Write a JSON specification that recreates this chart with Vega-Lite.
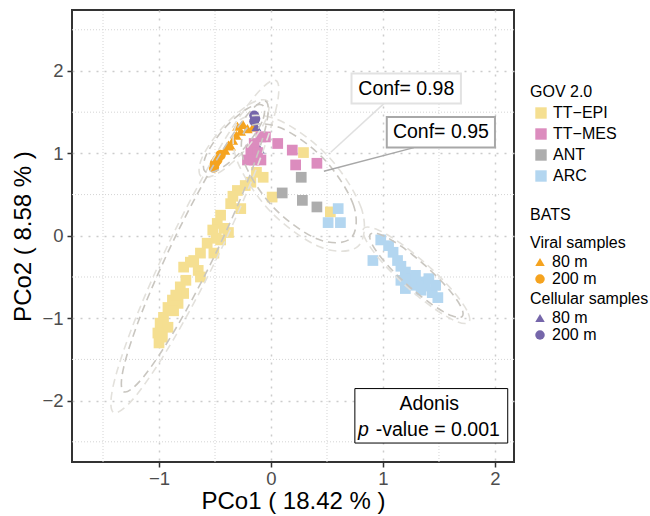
{
"$schema": "https://vega.github.io/schema/vega-lite/v6.json",
"width": 442, "height": 452,
"autosize": {"type": "none"},
"padding": {"left": 72, "top": 10, "right": 136, "bottom": 54},
"background": "white",
"config": {
  "font": "Liberation Sans",
  "view": {"stroke": "#333333", "strokeWidth": 2},
  "axis": {"labelFont": "Liberation Sans", "labelFontSize": 18.5, "labelColor": "#4d4d4d", "tickColor": "#333333", "tickWidth": 1.5, "tickSize": 5, "domain": false, "titleFont": "Liberation Sans", "titleFontSize": 24, "titleFontWeight": "normal", "titleColor": "#000000", "gridColor": "#cccccc", "gridDash": [2, 6], "gridWidth": 1.5},
  "legend": {"labelFont": "Liberation Sans", "labelFontSize": 16, "labelColor": "#000000", "titleFont": "Liberation Sans", "titleFontSize": 16, "titleFontWeight": "normal", "titleColor": "#000000", "padding": 0, "orient": "none"}
},
"datasets": {
  "grid": [
    {"x": -1.5, "y": -2.745, "x2": -1.5, "y2": 2.74},
    {"x": -0.5, "y": -2.745, "x2": -0.5, "y2": 2.74},
    {"x": 0.5, "y": -2.745, "x2": 0.5, "y2": 2.74},
    {"x": 1.5, "y": -2.745, "x2": 1.5, "y2": 2.74},
    {"x": -1.777, "y": -2.5, "x2": 2.17, "y2": -2.5},
    {"x": -1.777, "y": -1.5, "x2": 2.17, "y2": -1.5},
    {"x": -1.777, "y": -0.5, "x2": 2.17, "y2": -0.5},
    {"x": -1.777, "y": 0.5, "x2": 2.17, "y2": 0.5},
    {"x": -1.777, "y": 1.5, "x2": 2.17, "y2": 1.5},
    {"x": -1.777, "y": 2.5, "x2": 2.17, "y2": 2.5}
  ],
  "pts": [
    {"g": "TT−EPI", "x": 0.29, "y": 1.01}, {"g": "TT−EPI", "x": 0.01, "y": 0.47}, {"g": "TT−EPI", "x": 0.53, "y": 0.29},
    {"g": "TT−EPI", "x": -0.30, "y": 0.55}, {"g": "TT−EPI", "x": -0.18, "y": 0.65}, {"g": "TT−EPI", "x": -0.07, "y": 0.71},
    {"g": "TT−EPI", "x": -0.23, "y": 0.61}, {"g": "TT−EPI", "x": -0.13, "y": 0.77}, {"g": "TT−EPI", "x": -0.36, "y": 0.39},
    {"g": "TT−EPI", "x": -0.27, "y": 0.33}, {"g": "TT−EPI", "x": -0.45, "y": 0.25}, {"g": "TT−EPI", "x": -0.42, "y": 0.09},
    {"g": "TT−EPI", "x": -0.45, "y": -0.05}, {"g": "TT−EPI", "x": -0.38, "y": 0.04}, {"g": "TT−EPI", "x": -0.48, "y": 0.15},
    {"g": "TT−EPI", "x": -0.57, "y": -0.09}, {"g": "TT−EPI", "x": -0.51, "y": -0.21}, {"g": "TT−EPI", "x": -0.63, "y": -0.21},
    {"g": "TT−EPI", "x": -0.69, "y": -0.30}, {"g": "TT−EPI", "x": -0.78, "y": -0.38}, {"g": "TT−EPI", "x": -0.65, "y": -0.42},
    {"g": "TT−EPI", "x": -0.63, "y": -0.50}, {"g": "TT−EPI", "x": -0.76, "y": -0.54}, {"g": "TT−EPI", "x": -0.81, "y": -0.62},
    {"g": "TT−EPI", "x": -0.78, "y": -0.70}, {"g": "TT−EPI", "x": -0.88, "y": -0.78}, {"g": "TT−EPI", "x": -0.83, "y": -0.82},
    {"g": "TT−EPI", "x": -0.92, "y": -0.87}, {"g": "TT−EPI", "x": -0.87, "y": -0.91}, {"g": "TT−EPI", "x": -0.96, "y": -0.99},
    {"g": "TT−EPI", "x": -0.99, "y": -1.06}, {"g": "TT−EPI", "x": -0.92, "y": -1.11}, {"g": "TT−EPI", "x": -1.01, "y": -1.18},
    {"g": "TT−EPI", "x": -0.97, "y": -1.23}, {"g": "TT−EPI", "x": -1.00, "y": -1.30}, {"g": "TT−EPI", "x": -0.72, "y": -0.32},
    {"g": "TT−EPI", "x": -0.85, "y": -0.72}, {"g": "TT−EPI", "x": -0.34, "y": 0.48}, {"g": "TT−EPI", "x": -0.52, "y": 0.07},
    {"g": "TT−EPI", "x": -0.49, "y": -0.03},
    {"g": "TT−MES", "x": -0.09, "y": 1.20}, {"g": "TT−MES", "x": -0.15, "y": 1.12}, {"g": "TT−MES", "x": -0.18, "y": 1.04},
    {"g": "TT−MES", "x": -0.12, "y": 1.01}, {"g": "TT−MES", "x": -0.21, "y": 0.92}, {"g": "TT−MES", "x": -0.09, "y": 0.92},
    {"g": "TT−MES", "x": 0.06, "y": 1.12}, {"g": "TT−MES", "x": 0.19, "y": 1.04}, {"g": "TT−MES", "x": 0.22, "y": 0.86},
    {"g": "TT−MES", "x": 0.41, "y": 0.88}, {"g": "TT−MES", "x": -0.15, "y": 0.92}, {"g": "TT−MES", "x": -0.05, "y": 1.20},
    {"g": "ANT", "x": 0.27, "y": 0.71}, {"g": "ANT", "x": 0.10, "y": 0.52}, {"g": "ANT", "x": 0.28, "y": 0.43}, {"g": "ANT", "x": 0.41, "y": 0.35},
    {"g": "ARC", "x": 0.60, "y": 0.33}, {"g": "ARC", "x": 0.51, "y": 0.16}, {"g": "ARC", "x": 0.62, "y": 0.16},
    {"g": "ARC", "x": 0.98, "y": -0.05}, {"g": "ARC", "x": 1.05, "y": -0.12}, {"g": "ARC", "x": 0.91, "y": -0.30},
    {"g": "ARC", "x": 1.09, "y": -0.20}, {"g": "ARC", "x": 1.13, "y": -0.30}, {"g": "ARC", "x": 1.16, "y": -0.37},
    {"g": "ARC", "x": 1.20, "y": -0.44}, {"g": "ARC", "x": 1.25, "y": -0.52}, {"g": "ARC", "x": 1.32, "y": -0.56},
    {"g": "ARC", "x": 1.38, "y": -0.61}, {"g": "ARC", "x": 1.44, "y": -0.69}, {"g": "ARC", "x": 1.49, "y": -0.75},
    {"g": "ARC", "x": 1.25, "y": -0.60}, {"g": "ARC", "x": 1.34, "y": -0.66}, {"g": "ARC", "x": 1.16, "y": -0.54},
    {"g": "ARC", "x": 1.29, "y": -0.48}, {"g": "ARC", "x": 1.41, "y": -0.52}, {"g": "ARC", "x": 1.20, "y": -0.64},
    {"g": "ARC", "x": 1.47, "y": -0.60}
  ],
  "bats": [
    {"s": "viral", "d": "80 m", "x": -0.30, "y": 1.33}, {"s": "viral", "d": "80 m", "x": -0.25, "y": 1.35},
    {"s": "viral", "d": "80 m", "x": -0.21, "y": 1.30}, {"s": "viral", "d": "80 m", "x": -0.16, "y": 1.32},
    {"s": "viral", "d": "80 m", "x": -0.27, "y": 1.27}, {"s": "viral", "d": "80 m", "x": -0.34, "y": 1.16},
    {"s": "viral", "d": "80 m", "x": -0.38, "y": 1.10}, {"s": "viral", "d": "80 m", "x": -0.41, "y": 1.04},
    {"s": "viral", "d": "80 m", "x": -0.36, "y": 1.09}, {"s": "viral", "d": "80 m", "x": -0.31, "y": 1.22},
    {"s": "viral", "d": "200 m", "x": -0.51, "y": 0.83}, {"s": "viral", "d": "200 m", "x": -0.48, "y": 0.92},
    {"s": "viral", "d": "200 m", "x": -0.45, "y": 0.98}, {"s": "viral", "d": "200 m", "x": -0.50, "y": 0.88},
    {"s": "cellular", "d": "80 m", "x": -0.13, "y": 1.32}, {"s": "cellular", "d": "80 m", "x": -0.10, "y": 1.05},
    {"s": "cellular", "d": "200 m", "x": -0.15, "y": 1.46}, {"s": "cellular", "d": "200 m", "x": -0.15, "y": 1.39},
    {"s": "cellular", "d": "200 m", "x": -0.14, "y": 1.42}
  ],
  "ell": [
    {"id": "EPI", "c": "98", "o": 0, "x": 0.044, "y": 1.885}, {"id": "EPI", "c": "98", "o": 1, "x": 0.047, "y": 1.549},
    {"id": "EPI", "c": "98", "o": 2, "x": -0.145, "y": 0.762}, {"id": "EPI", "c": "98", "o": 3, "x": -0.48, "y": -0.263},
    {"id": "EPI", "c": "98", "o": 4, "x": -0.869, "y": -1.253}, {"id": "EPI", "c": "98", "o": 5, "x": -1.207, "y": -1.942},
    {"id": "EPI", "c": "98", "o": 6, "x": -1.404, "y": -2.145}, {"id": "EPI", "c": "98", "o": 7, "x": -1.407, "y": -1.809},
    {"id": "EPI", "c": "98", "o": 8, "x": -1.215, "y": -1.023}, {"id": "EPI", "c": "98", "o": 9, "x": -0.88, "y": 0.003},
    {"id": "EPI", "c": "98", "o": 10, "x": -0.491, "y": 0.993}, {"id": "EPI", "c": "98", "o": 11, "x": -0.153, "y": 1.682},
    {"id": "EPI", "c": "95", "o": 0, "x": -0.047, "y": 1.633}, {"id": "EPI", "c": "95", "o": 1, "x": -0.044, "y": 1.339},
    {"id": "EPI", "c": "95", "o": 2, "x": -0.212, "y": 0.651}, {"id": "EPI", "c": "95", "o": 3, "x": -0.505, "y": -0.246},
    {"id": "EPI", "c": "95", "o": 4, "x": -0.845, "y": -1.113}, {"id": "EPI", "c": "95", "o": 5, "x": -1.141, "y": -1.716},
    {"id": "EPI", "c": "95", "o": 6, "x": -1.314, "y": -1.893}, {"id": "EPI", "c": "95", "o": 7, "x": -1.316, "y": -1.599},
    {"id": "EPI", "c": "95", "o": 8, "x": -1.148, "y": -0.911}, {"id": "EPI", "c": "95", "o": 9, "x": -0.855, "y": -0.014},
    {"id": "EPI", "c": "95", "o": 10, "x": -0.515, "y": 0.853}, {"id": "EPI", "c": "95", "o": 11, "x": -0.219, "y": 1.456},
    {"id": "ARC", "c": "98", "o": 0, "x": 1.767, "y": -1.049}, {"id": "ARC", "c": "98", "o": 1, "x": 1.749, "y": -0.905},
    {"id": "ARC", "c": "98", "o": 2, "x": 1.610, "y": -0.646}, {"id": "ARC", "c": "98", "o": 3, "x": 1.387, "y": -0.343},
    {"id": "ARC", "c": "98", "o": 4, "x": 1.141, "y": -0.076}, {"id": "ARC", "c": "98", "o": 5, "x": 0.937, "y": 0.083},
    {"id": "ARC", "c": "98", "o": 6, "x": 0.829, "y": 0.091}, {"id": "ARC", "c": "98", "o": 7, "x": 0.848, "y": -0.053},
    {"id": "ARC", "c": "98", "o": 8, "x": 0.987, "y": -0.312}, {"id": "ARC", "c": "98", "o": 9, "x": 1.209, "y": -0.615},
    {"id": "ARC", "c": "98", "o": 10, "x": 1.456, "y": -0.882}, {"id": "ARC", "c": "98", "o": 11, "x": 1.660, "y": -1.041},
    {"id": "ARC", "c": "95", "o": 0, "x": 1.708, "y": -0.978}, {"id": "ARC", "c": "95", "o": 1, "x": 1.693, "y": -0.852},
    {"id": "ARC", "c": "95", "o": 2, "x": 1.571, "y": -0.625}, {"id": "ARC", "c": "95", "o": 3, "x": 1.376, "y": -0.360},
    {"id": "ARC", "c": "95", "o": 4, "x": 1.161, "y": -0.126}, {"id": "ARC", "c": "95", "o": 5, "x": 0.982, "y": 0.013},
    {"id": "ARC", "c": "95", "o": 6, "x": 0.888, "y": 0.020}, {"id": "ARC", "c": "95", "o": 7, "x": 0.904, "y": -0.106},
    {"id": "ARC", "c": "95", "o": 8, "x": 1.026, "y": -0.333}, {"id": "ARC", "c": "95", "o": 9, "x": 1.220, "y": -0.598},
    {"id": "ARC", "c": "95", "o": 10, "x": 1.436, "y": -0.832}, {"id": "ARC", "c": "95", "o": 11, "x": 1.615, "y": -0.971},
    {"id": "MES", "c": "95", "o": 0, "x": 0.713, "y": -0.030}, {"id": "MES", "c": "95", "o": 1, "x": 0.737, "y": 0.371},
    {"id": "MES", "c": "95", "o": 2, "x": 0.475, "y": 0.928}, {"id": "MES", "c": "95", "o": 3, "x": 0.080, "y": 1.314},
    {"id": "MES", "c": "95", "o": 4, "x": -0.217, "y": 1.304}, {"id": "MES", "c": "95", "o": 5, "x": -0.241, "y": 0.903},
    {"id": "MES", "c": "95", "o": 6, "x": 0.021, "y": 0.346}, {"id": "MES", "c": "95", "o": 7, "x": 0.416, "y": -0.040},
    {"id": "MES", "c": "98", "o": 0, "x": 0.779, "y": -0.125}, {"id": "MES", "c": "98", "o": 1, "x": 0.807, "y": 0.333},
    {"id": "MES", "c": "98", "o": 2, "x": 0.507, "y": 0.970}, {"id": "MES", "c": "98", "o": 3, "x": 0.056, "y": 1.411},
    {"id": "MES", "c": "98", "o": 4, "x": -0.283, "y": 1.399}, {"id": "MES", "c": "98", "o": 5, "x": -0.311, "y": 0.941},
    {"id": "MES", "c": "98", "o": 6, "x": -0.011, "y": 0.304}, {"id": "MES", "c": "98", "o": 7, "x": 0.440, "y": -0.137},
    {"id": "BATS", "c": "95", "o": 0, "x": -0.071, "y": 1.58}, {"id": "BATS", "c": "95", "o": 1, "x": -0.08, "y": 1.384},
    {"id": "BATS", "c": "95", "o": 2, "x": -0.236, "y": 1.068}, {"id": "BATS", "c": "95", "o": 3, "x": -0.447, "y": 0.818},
    {"id": "BATS", "c": "95", "o": 4, "x": -0.589, "y": 0.78}, {"id": "BATS", "c": "95", "o": 5, "x": -0.58, "y": 0.976},
    {"id": "BATS", "c": "95", "o": 6, "x": -0.424, "y": 1.292}, {"id": "BATS", "c": "95", "o": 7, "x": -0.213, "y": 1.542},
    {"id": "BATS", "c": "98", "o": 0, "x": -0.034, "y": 1.637}, {"id": "BATS", "c": "98", "o": 1, "x": -0.044, "y": 1.413},
    {"id": "BATS", "c": "98", "o": 2, "x": -0.223, "y": 1.052}, {"id": "BATS", "c": "98", "o": 3, "x": -0.464, "y": 0.766},
    {"id": "BATS", "c": "98", "o": 4, "x": -0.626, "y": 0.723}, {"id": "BATS", "c": "98", "o": 5, "x": -0.616, "y": 0.947},
    {"id": "BATS", "c": "98", "o": 6, "x": -0.437, "y": 1.308}, {"id": "BATS", "c": "98", "o": 7, "x": -0.196, "y": 1.594}
  ],
  "ann": [
    {"k": "b98", "x": 0.719, "y": 1.968, "x2": 1.696, "y2": 1.604},
    {"k": "b95", "x": 1.034, "y": 1.442, "x2": 2.0, "y2": 1.070},
    {"k": "bad", "x": 0.749, "y": -1.854, "x2": 2.114, "y2": -2.515},
    {"k": "l98", "x": 1.008, "y": 1.604, "x2": 0.534, "y2": 1.013},
    {"k": "l95", "x": 1.276, "y": 1.070, "x2": 0.472, "y2": 0.783}
  ],
  "txt": [
    {"k": "c", "t": "Conf= 0.98", "x": 1.208, "y": 1.786},
    {"k": "c", "t": "Conf= 0.95", "x": 1.517, "y": 1.256},
    {"k": "c", "t": "Adonis", "x": 1.413, "y": -2.036},
    {"k": "pv", "t": "-value = 0.001", "x": 0.935, "y": -2.36},
    {"k": "p", "t": "p", "x": 0.776, "y": -2.36}
  ]
},
"encoding": {
  "x": {"field": "x", "type": "quantitative", "scale": {"domain": [-1.777, 2.17], "nice": false, "zero": false},
        "axis": {"values": [-1, 0, 1, 2], "title": "PCo1 ( 18.42 % )", "labelPadding": 2, "titlePadding": 2}},
  "y": {"field": "y", "type": "quantitative", "scale": {"domain": [-2.745, 2.74], "nice": false, "zero": false},
        "axis": {"values": [-2, -1, 0, 1, 2], "title": "PCo2 ( 8.58 % )", "labelPadding": 4, "titlePadding": 6}}
},
"layer": [
  {"data": {"name": "grid"}, "mark": {"type": "rule", "color": "#d4d4d4", "strokeWidth": 1, "strokeDash": [1, 2]},
   "encoding": {"x2": {"field": "x2"}, "y2": {"field": "y2"}}},
  {"data": {"name": "bats"}, "transform": [{"filter": "datum.s === 'viral'"}],
   "mark": {"type": "point", "filled": true, "opacity": 1, "color": "#F5A31F", "size": 110},
   "encoding": {"shape": {"field": "d", "type": "nominal", "scale": {"domain": ["80 m", "200 m"], "range": ["triangle-up", "circle"]},
     "legend": {"title": ["BATS", "Viral samples"], "titleLineHeight": 28, "legendX": 458, "legendY": 197, "symbolFillColor": "#F5A31F", "symbolStrokeWidth": 0, "symbolSize": 90, "rowPadding": 1, "titlePadding": 3, "symbolOffset": 2}}}},
  {"data": {"name": "bats"}, "transform": [{"filter": "datum.s === 'cellular'"}],
   "mark": {"type": "point", "filled": true, "opacity": 1, "color": "#7566AA", "size": 100},
   "encoding": {"shape": {"field": "d", "type": "nominal", "scale": {"domain": ["80 m", "200 m"], "range": ["triangle-up", "circle"]},
     "legend": {"title": "Cellular samples", "legendX": 458, "legendY": 281, "symbolFillColor": "#7566AA", "symbolStrokeWidth": 0, "symbolSize": 90, "rowPadding": 1, "titlePadding": 3, "symbolOffset": 2}}}},
  {"data": {"name": "pts"}, "mark": {"type": "point", "shape": "square", "filled": true, "opacity": 1, "size": 115},
   "encoding": {"color": {"field": "g", "type": "nominal",
     "scale": {"domain": ["TT−EPI", "TT−MES", "ANT", "ARC"], "range": ["#F5DF91", "#DC8CBE", "#ADADAD", "#B3D6F0"]},
     "legend": {"title": "GOV 2.0", "legendX": 458, "legendY": 74, "symbolType": "square", "symbolSize": 130, "rowPadding": 5, "titlePadding": 5, "symbolOffset": 3}}}},
  {"data": {"name": "ell"}, "transform": [{"filter": "datum.c === '98'"}],
   "mark": {"type": "line", "interpolate": "cardinal-closed", "color": "#e3e1dc", "strokeWidth": 1.6, "strokeDash": [8, 5]},
   "encoding": {"detail": {"field": "id"}, "order": {"field": "o", "type": "quantitative"}}},
  {"data": {"name": "ell"}, "transform": [{"filter": "datum.c === '95'"}],
   "mark": {"type": "line", "interpolate": "cardinal-closed", "color": "#c9c6c0", "strokeWidth": 1.6, "strokeDash": [8, 5]},
   "encoding": {"detail": {"field": "id"}, "order": {"field": "o", "type": "quantitative"}}},
  {"data": {"name": "ann"}, "transform": [{"filter": "datum.k === 'l98'"}],
   "mark": {"type": "rule", "color": "#e0e0e0", "strokeWidth": 1.5},
   "encoding": {"x2": {"field": "x2"}, "y2": {"field": "y2"}}},
  {"data": {"name": "ann"}, "transform": [{"filter": "datum.k === 'l95'"}],
   "mark": {"type": "rule", "color": "#a8a8a8", "strokeWidth": 1.5},
   "encoding": {"x2": {"field": "x2"}, "y2": {"field": "y2"}}},
  {"data": {"name": "ann"}, "transform": [{"filter": "datum.k === 'b98'"}],
   "mark": {"type": "rect", "fill": "white", "stroke": "#e2e2e2", "strokeWidth": 2},
   "encoding": {"x2": {"field": "x2"}, "y2": {"field": "y2"}}},
  {"data": {"name": "ann"}, "transform": [{"filter": "datum.k === 'b95'"}],
   "mark": {"type": "rect", "fill": "white", "stroke": "#a8a8a8", "strokeWidth": 2},
   "encoding": {"x2": {"field": "x2"}, "y2": {"field": "y2"}}},
  {"data": {"name": "ann"}, "transform": [{"filter": "datum.k === 'bad'"}],
   "mark": {"type": "rect", "fill": "white", "stroke": "#000000", "strokeWidth": 1},
   "encoding": {"x2": {"field": "x2"}, "y2": {"field": "y2"}}},
  {"data": {"name": "txt"}, "transform": [{"filter": "datum.k === 'c'"}],
   "mark": {"type": "text", "font": "Liberation Sans", "fontSize": 19.5, "color": "#000000", "align": "center", "baseline": "middle"},
   "encoding": {"text": {"field": "t"}}},
  {"data": {"name": "txt"}, "transform": [{"filter": "datum.k === 'pv'"}],
   "mark": {"type": "text", "font": "Liberation Sans", "fontSize": 19.5, "color": "#000000", "align": "left", "baseline": "middle"},
   "encoding": {"text": {"field": "t"}}},
  {"data": {"name": "txt"}, "transform": [{"filter": "datum.k === 'p'"}],
   "mark": {"type": "text", "font": "Liberation Sans", "fontSize": 19.5, "fontStyle": "italic", "color": "#000000", "align": "left", "baseline": "middle"},
   "encoding": {"text": {"field": "t"}}}
],
"resolve": {"scale": {"shape": "independent", "color": "independent"}, "legend": {"shape": "independent"}}
}
